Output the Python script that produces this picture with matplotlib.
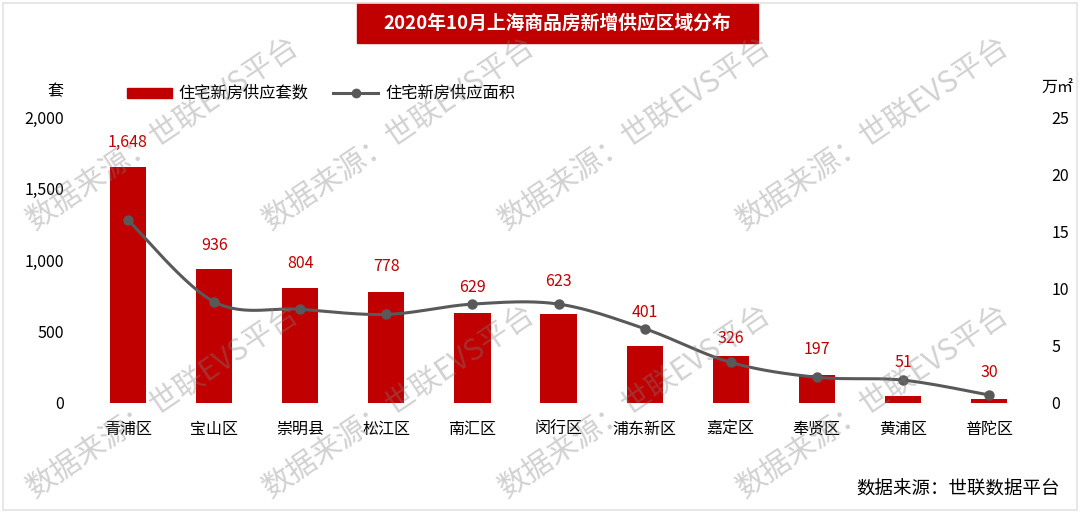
import matplotlib
matplotlib.use("Agg")
import matplotlib.pyplot as plt
from matplotlib.patches import Rectangle
import numpy as np

plt.rcParams["font.family"] = ["Noto Sans CJK SC", "DejaVu Sans"]

# data
districts = ["青浦区", "宝山区", "崇明县", "松江区", "南汇区", "闵行区",
             "浦东新区", "嘉定区", "奉贤区", "黄浦区", "普陀区"]
units = [1648, 936, 804, 778, 629, 623, 401, 326, 197, 51, 30]
area = [16.0, 8.85, 8.2, 7.75, 8.65, 8.65, 6.5, 3.55, 2.25, 2.0, 0.7]

left_ticks = [0, 500, 1000, 1500, 2000]
right_ticks = [0, 5, 10, 15, 20, 25]

# label distance above bar top (px), some were nudged in the original
label_gap = [25, 24, 25, 25, 26, 32, 33, 18, 25, 33, 26]

RED = "#C00000"
GREY = "#595959"


def smooth(xs, ys, n=30):
    # Excel-style smoothed line (Catmull-Rom as cubic Bezier)
    xs = np.asarray(xs, float)
    ys = np.asarray(ys, float)
    px = np.concatenate([[xs[0]], xs, [xs[-1]]])
    py = np.concatenate([[ys[0]], ys, [ys[-1]]])
    outx, outy = [], []
    t = np.linspace(0, 1, n)
    for i in range(1, len(px) - 2):
        p0 = np.array([px[i], py[i]])
        p3 = np.array([px[i + 1], py[i + 1]])
        c1 = p0 + (np.array([px[i + 1], py[i + 1]]) - np.array([px[i - 1], py[i - 1]])) / 6
        c2 = p3 - (np.array([px[i + 2], py[i + 2]]) - np.array([px[i], py[i]])) / 6
        b = ((1 - t) ** 3)[:, None] * p0 + (3 * (1 - t) ** 2 * t)[:, None] * c1 \
            + (3 * (1 - t) * t ** 2)[:, None] * c2 + (t ** 3)[:, None] * p3
        outx.extend(b[:, 0])
        outy.extend(b[:, 1])
    return outx, outy


fig = plt.figure(figsize=(10.8, 5.14), dpi=100)
ax = fig.add_axes([0.0787, 0.216, 0.877, 0.556])
ax2 = ax.twinx()

x = np.arange(len(districts))
ax.bar(x, units, width=0.42, color=RED, zorder=2)
for xi, v, g in zip(x, units, label_gap):
    ax.annotate(f"{v:,}", (xi, v), xytext=(0, g * 0.72), textcoords="offset points",
                ha="center", va="center", color=RED, fontsize=11.5)

sx, sy = smooth(x, area)
ax2.plot(sx, sy, color=GREY, lw=2.2, zorder=3)
ax2.plot(x, area, "o", color=GREY, ms=6.5, zorder=4)

ax.set_xlim(-0.5, len(districts) - 0.5)
ax.set_ylim(0, 2000)
ax2.set_ylim(0, 25)
ax.set_yticks(left_ticks)
ax.set_yticklabels([f"{t:,}" for t in left_ticks])
ax2.set_yticks(right_ticks)
ax.set_xticks(x)
ax.set_xticklabels(districts)
ax.tick_params(axis="both", length=0, labelsize=11.5)
ax.tick_params(axis="y", pad=15)
ax.tick_params(axis="x", pad=13)
ax2.tick_params(axis="y", length=0, labelsize=11.5, pad=14)
for a in (ax, ax2):
    for s in a.spines.values():
        s.set_visible(False)

# unit labels
fig.text(55 / 1080, 1 - 92 / 514, "套", ha="center", va="center", fontsize=11.5)
fig.text(1057 / 1080, 1 - 88 / 514, "万㎡", ha="center", va="center", fontsize=11.5)

# legend (manual, to place like the original)
fig.patches.append(Rectangle((127 / 1080, 1 - 98 / 514), 45 / 1080, 10 / 514,
                             transform=fig.transFigure, color=RED))
fig.text(178 / 1080, 1 - 93 / 514, "住宅新房供应套数", va="center", fontsize=11.7)
fig.lines.append(plt.Line2D([333 / 1080, 378 / 1080], [1 - 93 / 514] * 2,
                            transform=fig.transFigure, color=GREY, lw=2.2))
fig.lines.append(plt.Line2D([355.5 / 1080], [1 - 93 / 514], transform=fig.transFigure,
                            marker="o", color=GREY, ms=6))
fig.text(385 / 1080, 1 - 93 / 514, "住宅新房供应面积", va="center", fontsize=11.7)

# title box
fig.patches.append(Rectangle((357 / 1080, 1 - 43 / 514), 401 / 1080, 40 / 514,
                             transform=fig.transFigure, color=RED))
fig.text(557 / 1080, 1 - 23 / 514, "2020年10月上海商品房新增供应区域分布",
         ha="center", va="center", color="white", fontsize=13.5, fontweight="bold")

# source
fig.text(1060 / 1080, 1 - 490 / 514, "数据来源：世联数据平台", ha="right", va="center",
         fontsize=13.3)

# outer frame
fig.patches.append(Rectangle((3 / 1080, 4 / 514), 1074 / 1080, 507 / 514,
                             transform=fig.transFigure, fill=False,
                             edgecolor="#e3e3e3", lw=1.2))

# watermarks
for wx in [38, 274, 510, 748]:
    for wy in [236, 504]:
        fig.text(wx / 1080, 1 - wy / 514, "数据来源：世联EVS平台", rotation=34,
                 rotation_mode="anchor", ha="left", va="bottom", fontsize=21.5,
                 fontweight="light", color="#808080", alpha=0.36, zorder=10)

fig.savefig("out.png", dpi=100)
